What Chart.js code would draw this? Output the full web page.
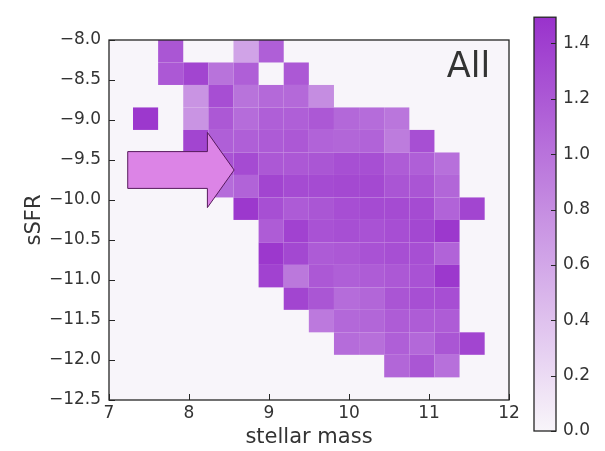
<!DOCTYPE html>
<html>
<head>
<meta charset="utf-8">
<script src="https://cdn.jsdelivr.net/npm/chart.js@4.4.1/dist/chart.umd.min.js"></script>
<style>
  html, body { margin: 0; padding: 0; background: #fff; }
  #wrap { position: relative; width: 605px; height: 451px; }
  #main { position: absolute; left: 0; top: 0; }
  #cbar { position: absolute; left: 520px; top: 0; }
</style>
</head>
<body>
<div id="wrap">
  <canvas id="main" width="605" height="451"></canvas>
  <canvas id="cbar" width="85" height="451"></canvas>
</div>
<script>
// bin edges of the 2d histogram (stellar mass along x, sSFR along y, top row first)
const massEdges = [7.30, 7.614, 7.928, 8.242, 8.556, 8.87, 9.184, 9.498, 9.812, 10.126, 10.44, 10.754, 11.068, 11.382, 11.696];
const sfrEdges = [-8.0, -8.281, -8.562, -8.843, -9.124, -9.406, -9.687, -9.968, -10.249, -10.53, -10.811, -11.092, -11.373, -11.654, -11.935, -12.217];

// cell values, one row per sSFR bin (top to bottom), one column per mass bin
const density = [
    [null, 1.22, null, null, 0.63, 1.15, null, null, null, null, null, null, null, null],
    [null, 1.20, 1.35, 1.00, 1.15, null, 1.20, null, null, null, null, null, null, null],
    [null, null, 0.74, 1.28, 1.00, 1.07, 1.07, 0.80, null, null, null, null, null, null],
    [1.45, null, 0.74, 1.20, 1.05, 1.15, 1.15, 1.20, 1.08, 1.05, 0.97, null, null, null],
    [null, null, 1.35, 1.15, 1.15, 1.18, 1.20, 1.12, 1.10, 1.12, 0.93, 1.27, null, null],
    [null, null, 1.20, 1.25, 1.30, 1.20, 1.20, 1.22, 1.27, 1.27, 1.17, 1.15, 1.02, null],
    [null, null, null, 1.05, 1.12, 1.35, 1.30, 1.30, 1.32, 1.32, 1.23, 1.23, 1.10, null],
    [null, null, null, null, 1.45, 1.27, 1.18, 1.22, 1.28, 1.30, 1.30, 1.30, 1.12, 1.35],
    [null, null, null, null, null, 1.17, 1.37, 1.25, 1.27, 1.25, 1.28, 1.33, 1.45, null],
    [null, null, null, null, null, 1.45, 1.33, 1.18, 1.20, 1.25, 1.27, 1.27, 1.12, null],
    [null, null, null, null, null, 1.37, 0.96, 1.20, 1.15, 1.17, 1.20, 1.25, 1.45, null],
    [null, null, null, null, null, null, 1.35, 1.22, 1.05, 1.10, 1.23, 1.27, 1.28, null],
    [null, null, null, null, null, null, null, 0.95, 1.08, 1.10, 1.17, 1.17, 1.17, null],
    [null, null, null, null, null, null, null, null, 1.05, 1.03, 1.15, 1.08, 1.22, 1.35],
    [null, null, null, null, null, null, null, null, null, null, 1.10, 1.22, 1.02, null]
];

const massTicks = [7, 8, 9, 10, 11, 12];
const sfrTicks = [-12.5, -12.0, -11.5, -11.0, -10.5, -10.0, -9.5, -9.0, -8.5, -8.0];
const cbarTicks = [0, 0.2, 0.4, 0.6, 0.8, 1.0, 1.2, 1.4];
const cbarMax = 1.495;
const panelLabel = 'All';

// arrow annotation, in data units
const arrowSpec = { x: 7.234, y: -9.625, dx: 1.33, width: 0.46, headWidth: 0.94, headLength: 0.334 };

// ################################################################################################
const FONT = '"DejaVu Sans", sans-serif';
const TEXT = '#333333';
const lowColor = [248, 245, 250];
const highColor = [153, 50, 204];

function cmap(v) {
    const t = Math.max(0, Math.min(1, v / cbarMax));
    const c = lowColor.map((a, i) => Math.round(a + (highColor[i] - a) * t));
    return `rgb(${c[0]}, ${c[1]}, ${c[2]})`;
}

function minus(v, digits) {
    return v.toFixed(digits).replace('-', '\u2212');
}

let cells = [];
density.forEach((row, r) => row.forEach((v, c) => {
    if (v === null) return;
    cells.push({
        x: (massEdges[c] + massEdges[c + 1]) / 2,
        y: (sfrEdges[r] + sfrEdges[r + 1]) / 2,
        v: v, r: r, c: c
    });
}));

const heatmapPlugin = {
    id: 'heatmap',
    beforeDatasetsDraw(chart) {
        const {ctx, chartArea: a, scales: {x, y}} = chart;
        ctx.save();
        ctx.fillStyle = cmap(0);
        ctx.fillRect(a.left, a.top, a.width, a.height);
        ctx.beginPath();
        ctx.rect(a.left, a.top, a.width, a.height);
        ctx.clip();
        chart.data.datasets[0].data.forEach(p => {
            const x0 = x.getPixelForValue(massEdges[p.c]);
            const x1 = x.getPixelForValue(massEdges[p.c + 1]);
            const y0 = y.getPixelForValue(sfrEdges[p.r]);
            const y1 = y.getPixelForValue(sfrEdges[p.r + 1]);
            ctx.fillStyle = cmap(p.v);
            ctx.fillRect(x0, y0, x1 - x0, y1 - y0);
        });
        ctx.restore();
    },
    afterDatasetsDraw(chart) {
        const {ctx, chartArea: a, scales: {x, y}} = chart;
        const px = v => x.getPixelForValue(v);
        const py = v => y.getPixelForValue(v);

        // arrow
        const s = arrowSpec;
        const xb = s.x + s.dx - s.headLength;
        ctx.save();
        ctx.beginPath();
        ctx.moveTo(px(s.x), py(s.y + s.width / 2));
        ctx.lineTo(px(xb), py(s.y + s.width / 2));
        ctx.lineTo(px(xb), py(s.y + s.headWidth / 2));
        ctx.lineTo(px(s.x + s.dx), py(s.y));
        ctx.lineTo(px(xb), py(s.y - s.headWidth / 2));
        ctx.lineTo(px(xb), py(s.y - s.width / 2));
        ctx.lineTo(px(s.x), py(s.y - s.width / 2));
        ctx.closePath();
        ctx.fillStyle = '#dc84e6';
        ctx.fill();
        ctx.strokeStyle = '#571a5c';
        ctx.lineWidth = 1;
        ctx.stroke();

        // panel label
        ctx.fillStyle = TEXT;
        ctx.font = '35px ' + FONT;
        ctx.textAlign = 'right';
        ctx.textBaseline = 'alphabetic';
        ctx.fillText(panelLabel, a.left + a.width * 0.953, a.top + a.height * 0.102);

        // inward ticks
        ctx.strokeStyle = '#262626';
        ctx.lineWidth = 1;
        ctx.beginPath();
        x.ticks.forEach(t => {
            const p = Math.round(px(t.value)) + 0.5;
            ctx.moveTo(p, a.bottom);
            ctx.lineTo(p, a.bottom - 6);
        });
        y.ticks.forEach(t => {
            const p = Math.round(py(t.value)) + 0.5;
            ctx.moveTo(a.left, p);
            ctx.lineTo(a.left + 6, p);
        });
        ctx.stroke();

        // frame
        ctx.lineWidth = 1.3;
        ctx.strokeRect(a.left, a.top, a.width, a.height);
        ctx.restore();
    }
};

new Chart(document.getElementById('main'), {
    type: 'scatter',
    data: {
        datasets: [{
            data: cells,
            pointRadius: 0,
            pointHoverRadius: 0
        }]
    },
    options: {
        responsive: false,
        animation: false,
        events: [],
        layout: { padding: { left: 0, right: 96, top: 40, bottom: 0 } },
        plugins: {
            legend: { display: false },
            tooltip: { enabled: false }
        },
        scales: {
            x: {
                type: 'linear',
                min: 7,
                max: 12,
                afterBuildTicks: s => { s.ticks = massTicks.map(v => ({ value: v })); },
                afterFit: s => { s.height = 51; },
                grid: { display: false, drawTicks: false },
                border: { display: false },
                ticks: {
                    autoSkip: false,
                    maxRotation: 0,
                    padding: 3,
                    color: TEXT,
                    font: { family: FONT, size: 17 },
                    callback: v => String(v)
                },
                title: {
                    display: true,
                    text: 'stellar mass',
                    color: TEXT,
                    font: { family: FONT, size: 21 },
                    padding: { top: 0, bottom: 1 }
                }
            },
            y: {
                type: 'linear',
                min: -12.5,
                max: -8.0,
                afterBuildTicks: s => { s.ticks = sfrTicks.map(v => ({ value: v })); },
                afterFit: s => { s.width = 109; },
                grid: { display: false, drawTicks: false },
                border: { display: false },
                ticks: {
                    autoSkip: false,
                    padding: 8,
                    color: TEXT,
                    font: { family: FONT, size: 17 },
                    callback: v => minus(v, 1)
                },
                title: {
                    display: true,
                    text: 'sSFR',
                    color: TEXT,
                    font: { family: FONT, size: 21 },
                    padding: { top: 22, bottom: 0 }
                }
            }
        }
    },
    plugins: [heatmapPlugin]
});

// ################################################################################################
const colorbarPlugin = {
    id: 'colorbar',
    beforeDatasetsDraw(chart) {
        const {ctx, chartArea: a, scales: {y}} = chart;
        const g = ctx.createLinearGradient(0, y.getPixelForValue(0), 0, y.getPixelForValue(cbarMax));
        for (let i = 0; i <= 10; i++) {
            g.addColorStop(i / 10, cmap(cbarMax * i / 10));
        }
        ctx.save();
        ctx.fillStyle = g;
        ctx.fillRect(a.left, a.top, a.width, a.height);
        ctx.strokeStyle = '#262626';
        ctx.lineWidth = 1;
        ctx.beginPath();
        y.ticks.forEach(t => {
            const p = Math.round(y.getPixelForValue(t.value)) + 0.5;
            ctx.moveTo(a.right, p);
            ctx.lineTo(a.right - 5, p);
        });
        ctx.stroke();
        ctx.lineWidth = 1.3;
        ctx.strokeRect(a.left, a.top, a.width, a.height);
        ctx.restore();
    }
};

new Chart(document.getElementById('cbar'), {
    type: 'scatter',
    data: { datasets: [{ data: [], pointRadius: 0 }] },
    options: {
        responsive: false,
        animation: false,
        events: [],
        layout: { padding: { left: 14, right: 0, top: 7, bottom: 20 } },
        plugins: {
            legend: { display: false },
            tooltip: { enabled: false }
        },
        scales: {
            x: { display: false, min: 0, max: 1 },
            y: {
                type: 'linear',
                position: 'right',
                min: 0,
                max: cbarMax,
                afterBuildTicks: s => { s.ticks = cbarTicks.map(v => ({ value: v })); },
                afterFit: s => { s.width = 49; },
                grid: { display: false, drawTicks: false },
                border: { display: false },
                ticks: {
                    autoSkip: false,
                    padding: 7,
                    color: TEXT,
                    font: { family: FONT, size: 17 },
                    callback: v => v.toFixed(1)
                }
            }
        }
    },
    plugins: [colorbarPlugin]
});
</script>
</body>
</html>
